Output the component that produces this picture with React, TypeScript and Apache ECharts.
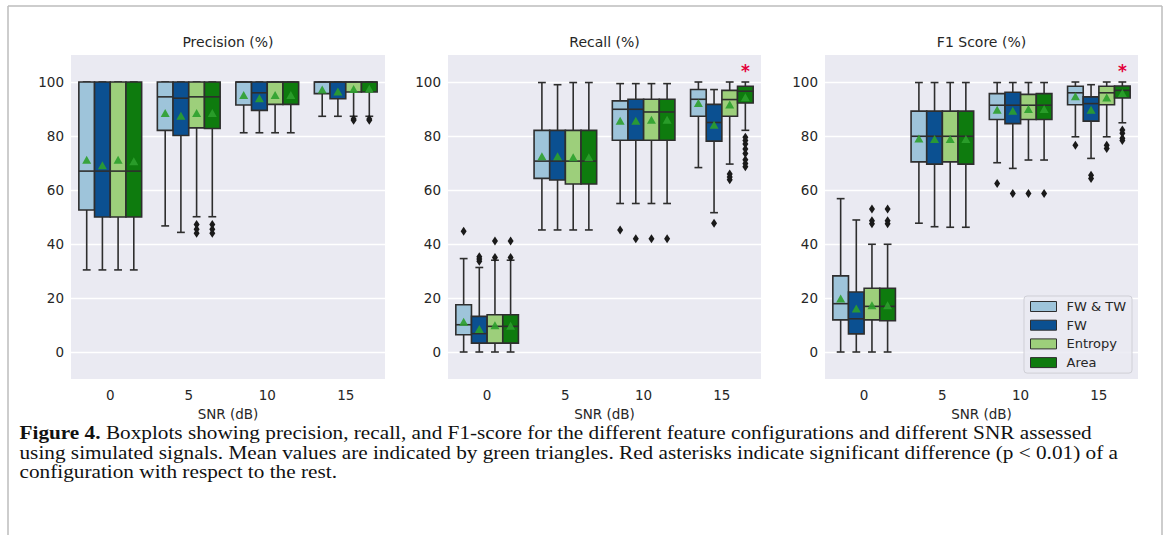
import { useEffect, useRef } from 'react';
import * as echarts from 'echarts';

const snrLevels = ['0', '5', '10', '15'];
const configNames = ['FW & TW', 'FW', 'Entropy', 'Area'];
const configColors = ['#9ec4da', '#0b5091', '#9dcf7b', '#0e7b0e'];
const yTicks = [0, 20, 40, 60, 80, 100];
const panelTitles = ['Precision (%)', 'Recall (%)', 'F1 Score (%)'];
const xAxisName = 'SNR (dB)';
const captionBold = 'Figure 4.';
const captionLines = [
  ' Boxplots showing precision, recall, and F1-score for the different feature configurations and different SNR assessed',
  'using simulated signals. Mean values are indicated by green triangles. Red asterisks indicate significant difference (p < 0.01) of a',
  'configuration with respect to the rest.',
];

// Box statistics per SNR level: [lower whisker, Q1, median, Q3, upper whisker]
const precisionFWTW = [[30.4, 52.6, 67, 100, 100], [46.7, 82.1, 94.5, 100, 100], [81.2, 91.5, 100, 100, 100], [87.3, 95.7, 100, 100, 100]];
const precisionFW = [[30.4, 50, 67, 100, 100], [44.3, 80.2, 94, 100, 100], [81.2, 89.5, 96, 100, 100], [87.3, 93.8, 100, 100, 100]];
const precisionEntropy = [[30.4, 50, 67, 100, 100], [50.1, 83, 94.5, 100, 100], [81.2, 91.7, 100, 100, 100], [87.3, 96.3, 100, 100, 100]];
const precisionArea = [[30.4, 50, 67, 100, 100], [50.1, 82.8, 94.5, 100, 100], [81.2, 91.7, 100, 100, 100], [87.3, 96.3, 100, 100, 100]];
// Means per configuration (rows) and SNR level (columns)
const precisionMeans = [[71, 88.3, 95, 97], [69, 87.3, 93.8, 96.3], [71, 88.3, 95, 97.2], [70.5, 88.3, 95, 97.3]];
// Outliers: [SNR index, configuration index, value]
const precisionOutliers = [[1, 2, 47.2], [1, 2, 45.5], [1, 2, 44], [1, 3, 47.2], [1, 3, 45.5], [1, 3, 44], [3, 2, 86.3], [3, 2, 85.8], [3, 3, 86.3], [3, 3, 85.8]];
// Significance markers: [SNR index, configuration index, value]
const precisionSignificant: number[][] = [];

const recallFWTW = [[0, 6.4, 10.1, 17.5, 34.6], [45.2, 64.3, 70.7, 82.1, 99.8], [55, 78.4, 89.9, 93, 99.4], [68.3, 87.3, 93.6, 97.2, 100]];
const recallFW = [[0, 3.3, 6.8, 13.2, 31.3], [45.2, 63.7, 70.7, 82.1, 99], [55, 78.4, 89.9, 93.6, 99.4], [51.6, 78.1, 85, 91.7, 97.2]];
const recallEntropy = [[0, 3.3, 9.5, 13.8, 34], [45.2, 62.2, 70.7, 82.1, 99.8], [55, 78.4, 88.9, 93.6, 99.4], [69.6, 87.3, 93.5, 96.9, 100]];
const recallArea = [[0, 3.3, 9.5, 13.8, 34], [45.2, 62.2, 70.7, 82.1, 99.8], [55, 78.4, 88.9, 93.6, 99.4], [82.1, 92.2, 96.6, 98.4, 100]];
const recallMeans = [[11, 72.3, 85.5, 92], [8.3, 72.3, 85.5, 84], [9.7, 71.9, 85.8, 91.5], [9.5, 71.9, 85.8, 94.2]];
const recallOutliers = [
  [0, 0, 44.7], [0, 1, 35.3], [0, 1, 34.4], [0, 1, 33.6], [0, 2, 41.1], [0, 2, 35], [0, 3, 41.1], [0, 3, 35],
  [2, 0, 45.2], [2, 1, 41.9], [2, 2, 41.9], [2, 3, 41.9],
  [3, 1, 47.7], [3, 2, 65.9], [3, 2, 64.8], [3, 2, 63.8],
  [3, 3, 79.5], [3, 3, 78.3], [3, 3, 77], [3, 3, 75.2], [3, 3, 73.5], [3, 3, 71.2], [3, 3, 69.8], [3, 3, 68.6],
];
const recallSignificant = [[3, 3, 105.2]];

const f1FWTW = [[0, 11.9, 17.9, 28.2, 56.8], [47.7, 70.4, 79.9, 89.2, 99.8], [70.1, 86.1, 91.4, 95.7, 99.8], [79.7, 91.6, 96, 98.4, 100]];
const f1FW = [[0, 6.7, 12.3, 22.2, 48.9], [46.4, 69.6, 79.9, 89.2, 99.8], [68, 84.6, 91.4, 96.2, 99.8], [71.7, 85.5, 92, 94.5, 99]];
const f1Entropy = [[0, 11.9, 16.9, 23.6, 39.9], [46.2, 70.4, 79.9, 89.2, 99.8], [71.1, 86.1, 91.4, 95.4, 99.8], [79.7, 91.6, 96, 98.4, 100]];
const f1Area = [[0, 11.6, 16.9, 23.6, 39.9], [46.2, 69.6, 79.9, 89.2, 99.8], [71.1, 86.1, 91.4, 95.7, 99.8], [84.9, 94.1, 96.9, 98.5, 100]];
const f1Means = [[19.6, 78.9, 89.5, 94.5], [15.9, 78.7, 89.2, 89.5], [17.1, 78.7, 89.8, 94.1], [17.1, 78.7, 89.8, 95.7]];
const f1Outliers = [
  [0, 2, 53], [0, 2, 48.6], [0, 2, 47.5], [0, 3, 53], [0, 3, 48.6], [0, 3, 47.5],
  [2, 0, 62.4], [2, 1, 58.7], [2, 2, 58.7], [2, 3, 58.7],
  [3, 0, 76.6], [3, 1, 65.5], [3, 1, 64.3], [3, 2, 76.6], [3, 2, 75.4],
  [3, 3, 82.2], [3, 3, 81], [3, 3, 79.2], [3, 3, 78.3],
];
const f1Significant = [[3, 3, 105.2]];

const panels = [
  { title: panelTitles[0], boxes: [precisionFWTW, precisionFW, precisionEntropy, precisionArea], means: precisionMeans, outliers: precisionOutliers, significant: precisionSignificant },
  { title: panelTitles[1], boxes: [recallFWTW, recallFW, recallEntropy, recallArea], means: recallMeans, outliers: recallOutliers, significant: recallSignificant },
  { title: panelTitles[2], boxes: [f1FWTW, f1FW, f1Entropy, f1Area], means: f1Means, outliers: f1Outliers, significant: f1Significant },
];

const FONT = 'DejaVu Sans';
const TEXT = '#262626';
const LINE = '#2e2e2e';
const gridLefts = [71, 448, 825];
const gridWidths = [314, 313, 313];

const offsetOf = (cfg: number) => -0.3 + 0.2 * cfg;

function bandOf(api: any) {
  return api.coord([1, 0])[0] - api.coord([0, 0])[0];
}

function makeBoxRenderer(cfg: number, color: string) {
  return (_params: any, api: any) => {
    const cat = api.value(0);
    const band = bandOf(api);
    const cx = api.coord([cat, 0])[0] + offsetOf(cfg) * band;
    const w = 0.2 * band;
    const y = (v: number) => api.coord([cat, v])[1];
    const low = y(api.value(1));
    const q1 = y(api.value(2));
    const med = y(api.value(3));
    const q3 = y(api.value(4));
    const high = y(api.value(5));
    const ls = { stroke: LINE, lineWidth: 1.6 };
    return {
      type: 'group',
      children: [
        { type: 'line', shape: { x1: cx, y1: low, x2: cx, y2: q1 }, style: ls },
        { type: 'line', shape: { x1: cx, y1: q3, x2: cx, y2: high }, style: ls },
        { type: 'line', shape: { x1: cx - w / 4, y1: low, x2: cx + w / 4, y2: low }, style: ls },
        { type: 'line', shape: { x1: cx - w / 4, y1: high, x2: cx + w / 4, y2: high }, style: ls },
        { type: 'rect', shape: { x: cx - w / 2, y: q3, width: w, height: q1 - q3 }, style: { fill: color, stroke: LINE, lineWidth: 1.6 } },
        { type: 'line', shape: { x1: cx - w / 2, y1: med, x2: cx + w / 2, y2: med }, style: ls },
      ],
    };
  };
}

function meanRenderer(_params: any, api: any) {
  const cat = api.value(0);
  const cfg = api.value(1);
  const band = bandOf(api);
  const cx = api.coord([cat, 0])[0] + offsetOf(cfg) * band;
  const cy = api.coord([cat, api.value(2)])[1];
  return {
    type: 'polygon',
    shape: { points: [[cx - 4.5, cy + 3.5], [cx + 4.5, cy + 3.5], [cx, cy - 4.5]] },
    style: { fill: '#2ca02c', opacity: 0.9 },
  };
}

function outlierRenderer(_params: any, api: any) {
  const cat = api.value(0);
  const cfg = api.value(1);
  const band = bandOf(api);
  const cx = api.coord([cat, 0])[0] + offsetOf(cfg) * band;
  const cy = api.coord([cat, api.value(2)])[1];
  return {
    type: 'polygon',
    shape: { points: [[cx, cy - 4.5], [cx + 3, cy], [cx, cy + 4.5], [cx - 3, cy]] },
    style: { fill: '#1a1a1a' },
  };
}

function significantRenderer(_params: any, api: any) {
  const cat = api.value(0);
  const cfg = api.value(1);
  const band = bandOf(api);
  const cx = api.coord([cat, 0])[0] + offsetOf(cfg) * band;
  const cy = api.coord([cat, api.value(2)])[1];
  return {
    type: 'text',
    x: cx,
    y: cy + 3,
    style: { text: '*', fill: '#e3003b', fontSize: 17, fontWeight: 'bold', fontFamily: FONT, align: 'center', verticalAlign: 'middle', textAlign: 'center', textVerticalAlign: 'middle' },
  };
}

function measure(font: string, text: string) {
  const ctx = document.createElement('canvas').getContext('2d');
  if (!ctx) return 0;
  ctx.font = font;
  return ctx.measureText(text).width;
}

export default function App() {
  const ref = useRef<HTMLDivElement>(null);

  useEffect(() => {
    if (!ref.current) return;
    const chart = echarts.init(ref.current, undefined, { renderer: 'svg' });

    const grids = panels.map((_, i) => ({
      left: gridLefts[i], top: 55, width: gridWidths[i], height: 324,
      show: true, backgroundColor: '#EAEAF2', borderWidth: 0, containLabel: false,
    }));
    const xAxes = panels.map((_, i) => ({
      type: 'category', gridIndex: i, data: snrLevels, boundaryGap: true,
      axisLine: { show: false }, axisTick: { show: false }, splitLine: { show: false },
      axisLabel: { color: TEXT, fontSize: 13.5, fontFamily: FONT, margin: 9 },
      name: xAxisName, nameLocation: 'middle', nameGap: 27,
      nameTextStyle: { color: TEXT, fontSize: 13.5, fontFamily: FONT },
    }));
    const yAxes = panels.map((_, i) => ({
      type: 'value', gridIndex: i, min: -10, max: 110,
      axisLine: { show: false },
      axisTick: { show: false, customValues: yTicks },
      axisLabel: { color: TEXT, fontSize: 13.5, fontFamily: FONT, margin: 7, customValues: yTicks },
      splitLine: { show: true, lineStyle: { color: '#ffffff', width: 1.3 } },
    }));

    const series: any[] = [];
    panels.forEach((p, pi) => {
      p.boxes.forEach((stats, c) => {
        series.push({
          type: 'custom', name: configNames[c], xAxisIndex: pi, yAxisIndex: pi,
          itemStyle: { color: configColors[c] },
          encode: { x: 0, y: [1, 2, 3, 4, 5] },
          data: stats.map((s, i) => [i, ...s]),
          renderItem: makeBoxRenderer(c, configColors[c]),
          z: 2,
        });
      });
      series.push({
        type: 'custom', name: 'mean-' + pi, xAxisIndex: pi, yAxisIndex: pi,
        encode: { x: 0, y: 2 },
        data: p.means.flatMap((arr, c) => arr.map((v, i) => [i, c, v])),
        renderItem: meanRenderer, z: 4,
      });
      series.push({
        type: 'custom', name: 'outliers-' + pi, xAxisIndex: pi, yAxisIndex: pi,
        encode: { x: 0, y: 2 },
        data: p.outliers,
        renderItem: outlierRenderer, z: 3,
      });
      if (p.significant.length) {
        series.push({
          type: 'custom', name: 'significant-' + pi, xAxisIndex: pi, yAxisIndex: pi,
          encode: { x: 0, y: 2 },
          data: p.significant,
          renderItem: significantRenderer, z: 4,
        });
      }
    });

    const capFont = 18;
    const capFamily = '"Liberation Serif", "Times New Roman", serif';
    const line1Width = measure(`bold ${capFont}px ${capFamily}`, captionBold) + measure(`${capFont}px ${capFamily}`, captionLines[0]);
    const capScale = line1Width > 0 ? (1092 - 19.5) / line1Width : 1;
    const capYs = [433, 453, 472];

    const graphic: any[] = [
      { type: 'line', shape: { x1: 8, y1: 6, x2: 1162, y2: 6 }, style: { stroke: '#bdbdbd', lineWidth: 1.5 } },
      { type: 'line', shape: { x1: 8, y1: 6, x2: 8, y2: 535 }, style: { stroke: '#bdbdbd', lineWidth: 1.5 } },
      { type: 'line', shape: { x1: 1162, y1: 6, x2: 1162, y2: 535 }, style: { stroke: '#bdbdbd', lineWidth: 1.5 } },
    ];
    panels.forEach((p, i) => {
      graphic.push({
        type: 'text', x: gridLefts[i] + gridWidths[i] / 2, y: 42,
        style: { text: p.title, fill: TEXT, fontSize: 14, fontFamily: FONT, align: 'center', verticalAlign: 'middle', textAlign: 'center', textVerticalAlign: 'middle' },
      });
    });
    captionLines.forEach((line, i) => {
      graphic.push({
        type: 'text', x: 19.5, y: capYs[i], scaleX: capScale,
        style: {
          text: i === 0 ? `{b|${captionBold}}${line}` : line,
          rich: { b: { fontWeight: 'bold', fontSize: capFont, fontFamily: capFamily, fill: '#111' } },
          fill: '#111', fontSize: capFont, fontFamily: capFamily,
          align: 'left', verticalAlign: 'middle', textAlign: 'left', textVerticalAlign: 'middle',
        },
      });
    });

    chart.setOption({
      animation: false,
      backgroundColor: '#ffffff',
      grid: grids,
      xAxis: xAxes,
      yAxis: yAxes,
      legend: {
        orient: 'vertical', left: 1024, top: 296,
        padding: [3.5, 6, 3.5, 6], itemGap: 4.7, itemWidth: 26, itemHeight: 10,
        backgroundColor: 'rgba(234,234,242,0.85)', borderColor: '#cfcfd6', borderWidth: 1, borderRadius: 3,
        textStyle: { color: TEXT, fontSize: 13, fontFamily: FONT, lineHeight: 14, padding: [0, 0, 0, 5] },
        data: configNames.map((n, c) => ({ name: n, icon: 'rect', itemStyle: { color: configColors[c], borderColor: LINE, borderWidth: 1 } })),
      },
      graphic,
      series,
    });

    return () => chart.dispose();
  }, []);

  return <div ref={ref} style={{ position: 'absolute', left: 0, top: 0, width: 1168, height: 535, background: '#fff' }} />;
}
